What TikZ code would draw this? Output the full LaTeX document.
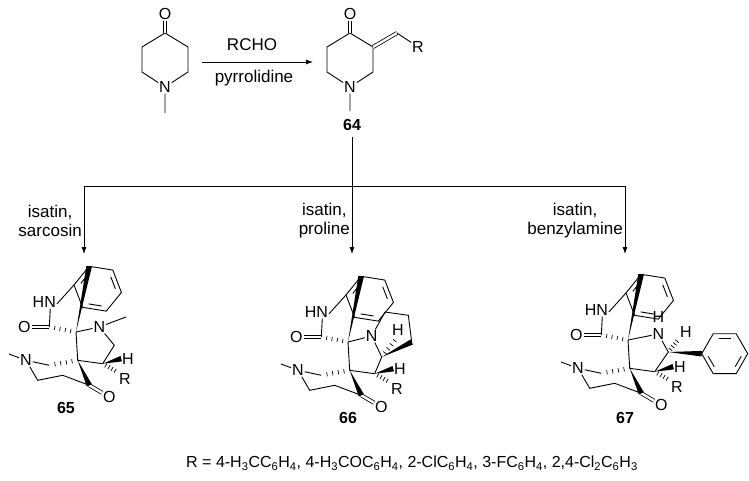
\documentclass[tikz,border=0pt]{standalone}
\usepackage{fontspec}
\setmainfont{Liberation Sans}
\usetikzlibrary{calc,arrows.meta}
\tikzset{
 bnd/.style={line width=0.9pt},
 dbl/.style={line width=0.8pt,double,double distance=2.4pt},
 atom/.style={inner sep=0.8pt,font=\fontsize{16}{16}\selectfont},
 lbl/.style={font=\fontsize{17}{19}\selectfont,align=center,inner sep=1pt},
 foottext/.style={font=\fontsize{16}{18}\selectfont,inner sep=1pt},
 cpd/.style={font=\bfseries\fontsize{16}{18}\selectfont},
 rxn/.style={-{Latex[length=7pt,width=5pt]},line width=0.8pt}
}
\newcommand\hashb[2]{\foreach \t in {0.2,0.4,0.6,0.8,1.0}{\draw[line width=0.7pt] ($(#1)!\t!(#2)!2.2pt!90:(#2)$) -- ($(#1)!\t!(#2)!2.2pt!-90:(#2)$);}}
\newcommand\wedgeb[2]{\fill ($(#2)!2.8pt!90:(#1)$) -- (#1) -- ($(#2)!2.8pt!-90:(#1)$) -- cycle;}
\newcommand\corestruct{%
 \coordinate (S) at (0,0);
 \coordinate (bc) at (21.7,-43.3);
 \coordinate (C3a) at ($(bc)+(-111:24)$);
 \coordinate (C7a) at ($(bc)+(-171:24)$);
 \draw[bnd] ($(bc)+(-111:24)$) \foreach \a in {171,231,291,351,51}{ -- ($(bc)+(-\a:24)$)} -- cycle;
 \foreach \a/\b in {111/171,231/291,351/51}{\draw[bnd,shorten >=3pt,shorten <=3pt] ($(bc)+(-\a:19)$) -- ($(bc)+(-\b:19)$);}
 \node[atom] (NH) at (-31.7,-30) {HN};
 \coordinate (C2) at (-26.7,-5);
 \node[atom] (O1) at (-51.7,-5) {O};
 \draw[bnd] (C7a) -- ([yshift=-2pt]NH.east);
 \draw[bnd] ([xshift=6pt]NH.south) -- (C2);
 \draw[dbl] (C2) -- (O1);
 \hashb{S}{C2}
 \wedgeb{S}{C3a}
 \coordinate (Cq) at (1.7,28.3);
 \coordinate (CR) at (26.7,31.7);
 \draw[bnd] (S) -- (Cq) -- (CR);
 \node[atom] (H1) at (52,26.7) {H};
 \wedgeb{CR}{H1.west}
 \node[atom] (R1) at (49,47) {R};
 \hashb{CR}{R1.north west}
 \node[atom] (Np) at (-50,28.3) {N};
 \coordinate (Me1) at (-67,22);
 \draw[bnd] (Np) -- (Me1);
 \coordinate (Ca) at (-26.7,33.3);
 \coordinate (Cb) at (-38.3,48.3);
 \coordinate (Cc) at (-13.3,43.3);
 \coordinate (CO) at (13.3,53.3);
 \node[atom] (O2) at (33.3,65) {O};
 \draw[bnd] (Np) -- (Ca);
 \hashb{Cq}{Ca}
 \draw[bnd] (Np) -- (Cb) -- (Cc) -- (CO);
 \draw[dbl] (CO) -- (O2);
 \wedgeb{Cq}{CO}
}
\begin{document}
\begin{tikzpicture}[x=1pt,y=-1pt]
\useasboundingbox (0,0) rectangle (749,480);
% starting material
\coordinate (a4) at (165,33); \coordinate (a3) at (188,47); \coordinate (a2) at (188,72);
\coordinate (a6) at (142,72); \coordinate (a5) at (142,47); \coordinate (aMe) at (165,113);
\node[atom] (aN) at (165,87) {N};
\node[atom] (aO) at (165,14) {O};
\draw[bnd] (aN) -- (a2) -- (a3) -- (a4) -- (a5) -- (a6) -- (aN) -- (aMe);
\draw[dbl] (a4) -- (aO);
% arrow
\coordinate (r1) at (202,62); \coordinate (r2) at (313,62);
\draw[rxn] (r1) -- (r2);
\node[lbl] (rcho) at (252,45) {RCHO};
\node[lbl] (pyr) at (254,78) {pyrrolidine};
% 64
\coordinate (b4) at (350,33); \coordinate (b3) at (373,47); \coordinate (b2) at (373,72);
\coordinate (b6) at (327,72); \coordinate (b5) at (327,47); \coordinate (bx) at (397,33); \coordinate (bMe) at (350,111);
\node[atom] (bN) at (350,87) {N};
\node[atom] (bO) at (350,14) {O};
\node[atom] (bR) at (418,47) {R};
\draw[bnd] (bN) -- (b2) -- (b3) -- (b4) -- (b5) -- (b6) -- (bN) -- (bMe);
\draw[dbl] (b4) -- (bO);
\draw[dbl] (b3) -- (bx);
\draw[bnd] (bx) -- (bR);
\node[cpd] (L64) at (352,125) {64};
% branching arrows
\coordinate (t0) at (352,137); \coordinate (tm) at (352,186);
\coordinate (tl) at (84,186); \coordinate (tr) at (625,186);
\coordinate (el) at (84,254); \coordinate (em) at (352,254); \coordinate (er) at (625,254);
\draw[line width=0.8pt] (tl) -- (tr);
\draw[rxn] (t0) -- (em);
\draw[rxn] (tl) -- (el);
\draw[rxn] (tr) -- (er);
\node[lbl,anchor=east] (c1) at (83,221) {isatin,\\sarcosin};
\node[lbl,anchor=east] (c2) at (351,221) {isatin,\\proline};
\node[lbl,anchor=east] (c3) at (624,221) {isatin,\\benzylamine};
% 65
\begin{scope}[shift={(76,332)}]
 \corestruct
 \node[atom] (N65) at (23.3,-5) {N};
 \draw[bnd] (S) -- (N65);
 \coordinate (Me2) at (50,-15);
 \coordinate (C5) at (38.3,13.3);
 \draw[bnd] (N65) -- (Me2);
 \draw[bnd] (N65) -- (C5) -- (CR);
 \node[cpd] (L65) at (-10,76) {65};
\end{scope}
% 66
\begin{scope}[shift={(348,342)}]
 \corestruct
 \node[atom] (N66) at (23.7,-6) {N};
 \draw[bnd] (S) -- (N66);
 \coordinate (CH) at (33.7,15);
 \draw[bnd] (N66) -- (CH) -- (CR);
 \coordinate (P1) at (37,-30); \coordinate (P2) at (60.3,-26.7); \coordinate (P3) at (63.7,0);
 \draw[bnd] (N66) -- (P1) -- (P2) -- (P3);
 \wedgeb{CH}{P3}
 \node[atom] (H2) at (50,-12) {H};
 \hashb{CH}{H2.south}
 \node[cpd] (L66) at (0,76) {66};
\end{scope}
% 67
\begin{scope}[shift={(628,340)}]
 \corestruct
 \node[atom] (N67) at (30.3,-6) {N};
 \node[atom] (H3) at (30.3,-23) {H};
 \draw[bnd] (S) -- (N67);
 \coordinate (CP) at (40.3,12);
 \draw[bnd] (N67) -- (CP) -- (CR);
 \node[atom] (H4) at (58,-8) {H};
 \hashb{CP}{H4.south west}
 \coordinate (pc) at (96.7,13.7);
 \coordinate (ip) at ($(pc)+(180:23)$);
 \wedgeb{CP}{ip}
 \draw[bnd] ($(pc)+(0:23)$) \foreach \a in {60,120,180,240,300}{ -- ($(pc)+(\a:23)$)} -- cycle;
 \foreach \a/\b in {240/300,0/60,120/180}{\draw[bnd,shorten >=3pt,shorten <=3pt] ($(pc)+(\a:18)$) -- ($(pc)+(\b:18)$);}
 \node[cpd] (L67) at (-3,78) {67};
\end{scope}
\node[foottext] (foot) at (412,463) {R = 4-H\textsubscript{3}CC\textsubscript{6}H\textsubscript{4}, 4-H\textsubscript{3}COC\textsubscript{6}H\textsubscript{4}, 2-ClC\textsubscript{6}H\textsubscript{4}, 3-FC\textsubscript{6}H\textsubscript{4}, 2,4-Cl\textsubscript{2}C\textsubscript{6}H\textsubscript{3}};
\end{tikzpicture}
\end{document}
